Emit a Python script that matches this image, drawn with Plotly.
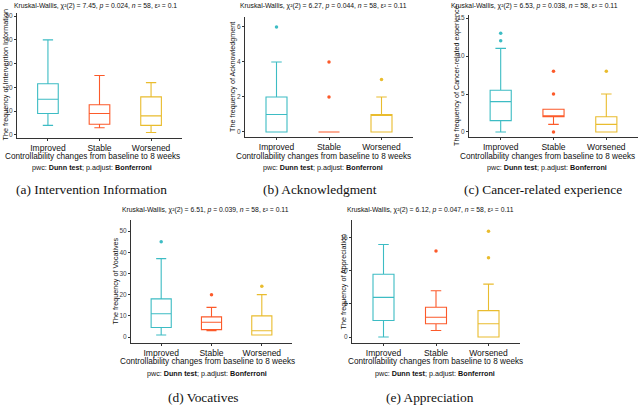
import plotly.graph_objects as go

# Groups and colours
GROUPS = ['Improved', 'Stable', 'Worsened']
GROUP_COLORS = ['#3DBCC4', '#FC5A2A', '#E9BC2E']

# (a) Intervention Information
INFO_LOWER = [4, 3, 1]
INFO_Q1 = [9, 4.5, 4]
INFO_MEDIAN = [15, 9, 8]
INFO_Q3 = [21.5, 12.7, 16]
INFO_UPPER = [40, 25, 22]
INFO_OUTLIERS = [[], [], []]

# (b) Acknowledgment
ACK_LOWER = [0, 0, 0]
ACK_Q1 = [0, 0, 0]
ACK_MEDIAN = [1, 0, 1]
ACK_Q3 = [2, 0, 1]
ACK_UPPER = [4, 0, 2]
ACK_OUTLIERS = [[6], [2, 4], [3]]

# (c) Cancer-related experience
CANCER_LOWER = [0, 1, 0]
CANCER_Q1 = [1.5, 2, 0]
CANCER_MEDIAN = [4, 2, 1]
CANCER_Q3 = [5.5, 3, 2]
CANCER_UPPER = [11, 3, 5]
CANCER_OUTLIERS = [[12, 13], [0, 5, 8], [8]]

# (d) Vocatives
VOC_LOWER = [1, 3, 1]
VOC_Q1 = [4.5, 3.5, 1]
VOC_MEDIAN = [11, 7, 3]
VOC_Q3 = [18, 9.5, 10]
VOC_UPPER = [37, 14, 20]
VOC_OUTLIERS = [[45], [20], [24]]

# (e) Appreciation
APP_LOWER = [0, 1, 0]
APP_Q1 = [2.5, 2, 0]
APP_MEDIAN = [6, 3, 2]
APP_Q3 = [9.5, 4.5, 4]
APP_UPPER = [14, 7, 8]
APP_OUTLIERS = [[], [13], [12, 16]]

KW_TEXTS = [
    'Kruskal-Wallis, χ²(2) = 7.45, <i>p</i> = 0.024, <i>n</i> = 58, ε² = 0.1',
    'Kruskal-Wallis, χ²(2) = 6.27, <i>p</i> = 0.044, <i>n</i> = 58, ε² = 0.11',
    'Kruskal-Wallis, χ²(2) = 6.53, <i>p</i> = 0.038, <i>n</i> = 58, ε² = 0.11',
    'Kruskal-Wallis, χ²(2) = 6.51, <i>p</i> = 0.039, <i>n</i> = 58, ε² = 0.11',
    'Kruskal-Wallis, χ²(2) = 6.12, <i>p</i> = 0.047, <i>n</i> = 58, ε² = 0.11',
]
Y_TITLES = [
    'The frequency of Intervention Information',
    'The frequency of Acknowledgment',
    'The frequency of Cancer-related experience',
    'The frequency of Vocatives',
    'The frequency of Appreciation',
]
CAPTIONS = [
    '(a) Intervention Information',
    '(b) Acknowledgment',
    '(c) Cancer-related experience',
    '(d) Vocatives',
    '(e) Appreciation',
]
X_TITLE = 'Controllability changes from baseline to 8 weeks'
PWC_TEXT = 'pwc: <b>Dunn test</b>; p.adjust: <b>Bonferroni</b>'

W, H = 640, 405

PANELS = [
    (INFO_LOWER, INFO_Q1, INFO_MEDIAN, INFO_Q3, INFO_UPPER, INFO_OUTLIERS),
    (ACK_LOWER, ACK_Q1, ACK_MEDIAN, ACK_Q3, ACK_UPPER, ACK_OUTLIERS),
    (CANCER_LOWER, CANCER_Q1, CANCER_MEDIAN, CANCER_Q3, CANCER_UPPER, CANCER_OUTLIERS),
    (VOC_LOWER, VOC_Q1, VOC_MEDIAN, VOC_Q3, VOC_UPPER, VOC_OUTLIERS),
    (APP_LOWER, APP_Q1, APP_MEDIAN, APP_Q3, APP_UPPER, APP_OUTLIERS),
]

# pixel geometry: left, right, top, bottom of plot area; y range; tick step
GEOM = [
    dict(l=17, r=182, t=13, b=138, yr=[-1.3, 51.3], dt=10),
    dict(l=245, r=413, t=17, b=137, yr=[-0.29, 6.57], dt=2),
    dict(l=469, r=638, t=15, b=137, yr=[-0.66, 15.4], dt=5),
    dict(l=131, r=292, t=220, b=343, yr=[-2.8, 55.2], dt=10),
    dict(l=352, r=520, t=220, b=343, yr=[-0.9, 17.7], dt=5),
]
# text anchor positions (px): title centre, x-label centre, caption centre
TEXT_POS = [
    dict(tx=95, ty=6, xx=92, xy=156, py=167, cx=91, cy=189, yx=5),
    dict(tx=323, ty=6, xx=323, xy=156, py=167, cx=320, cy=189, yx=232),
    dict(tx=534, ty=6, xx=547, xy=156, py=167, cx=543, cy=189, yx=456),
    dict(tx=205, ty=210, xx=207, xy=361, py=373, cx=203, cy=397, yx=115),
    dict(tx=430, ty=210, xx=435, xy=361, py=373, cx=430, cy=397, yx=343),
]

SANS = 'Liberation Sans, Arial'
SERIF = 'Liberation Serif, Times New Roman'


def px_x(p):
    return p / W


def px_y(p):
    return 1 - p / H


fig = go.Figure()
annotations = []
layout_axes = {}

for i, (lower, q1, med, q3, upper, outliers) in enumerate(PANELS):
    n = i + 1
    xa = 'x' if n == 1 else f'x{n}'
    ya = 'y' if n == 1 else f'y{n}'
    g = GEOM[i]
    for j, grp in enumerate(GROUPS):
        fig.add_trace(go.Box(
            x=[grp], q1=[q1[j]], median=[med[j]], q3=[q3[j]],
            lowerfence=[lower[j]], upperfence=[upper[j]],
            boxpoints=False, width=0.4,
            fillcolor='white', line=dict(color=GROUP_COLORS[j], width=1.1),
            xaxis=xa, yaxis=ya, showlegend=False,
        ))
        if outliers[j]:
            fig.add_trace(go.Scatter(
                x=[grp] * len(outliers[j]), y=outliers[j], mode='markers',
                marker=dict(color=GROUP_COLORS[j], size=3.5),
                xaxis=xa, yaxis=ya, showlegend=False,
            ))

    xkey = 'xaxis' if n == 1 else f'xaxis{n}'
    ykey = 'yaxis' if n == 1 else f'yaxis{n}'
    layout_axes[xkey] = dict(
        domain=[px_x(g['l']), px_x(g['r'])], anchor=ya,
        type='category', categoryorder='array', categoryarray=GROUPS,
        range=[-0.6, 2.6], showgrid=False, zeroline=False,
        showline=True, linecolor='#333333', linewidth=1,
        ticks='outside', ticklen=2, tickcolor='#333333',
        tickfont=dict(size=8.5, color='#111111', family=SANS),
    )
    layout_axes[ykey] = dict(
        domain=[px_y(g['b']), px_y(g['t'])], anchor=xa,
        range=g['yr'], dtick=g['dt'], tick0=0, showgrid=False, zeroline=False,
        showline=True, linecolor='#333333', linewidth=1,
        ticks='outside', ticklen=2, tickcolor='#333333',
        tickfont=dict(size=6.5, color='#444444', family=SANS),
    )

    tp = TEXT_POS[i]
    base = dict(xref='paper', yref='paper', showarrow=False,
                xanchor='center', yanchor='middle')
    annotations.append(dict(base, x=px_x(tp['tx']), y=px_y(tp['ty']), text=KW_TEXTS[i],
                            font=dict(size=6.8, color='#111111', family=SANS)))
    annotations.append(dict(base, x=px_x(tp['xx']), y=px_y(tp['xy']), text=X_TITLE,
                            font=dict(size=8.2, color='#111111', family=SANS)))
    annotations.append(dict(base, x=px_x(tp['xx']), y=px_y(tp['py']), text=PWC_TEXT,
                            font=dict(size=7.2, color='#111111', family=SANS)))
    annotations.append(dict(base, x=px_x(tp['cx']), y=px_y(tp['cy']), text=CAPTIONS[i],
                            font=dict(size=13.4, color='#111111', family=SERIF)))
    annotations.append(dict(base, x=px_x(tp['yx']), y=(px_y(g['b']) + px_y(g['t'])) / 2,
                            text=Y_TITLES[i], textangle=-90,
                            font=dict(size=7.2, color='#111111', family=SANS)))

fig.update_layout(
    width=W, height=H,
    margin=dict(l=0, r=0, t=0, b=0),
    paper_bgcolor='white', plot_bgcolor='white',
    showlegend=False,
    annotations=annotations,
    **layout_axes,
)

# page body has a default margin; drop it so the figure sits at the corner
fig.write_html("out.html", config={'displayModeBar': False},
               post_script="document.body.style.margin='0';")
